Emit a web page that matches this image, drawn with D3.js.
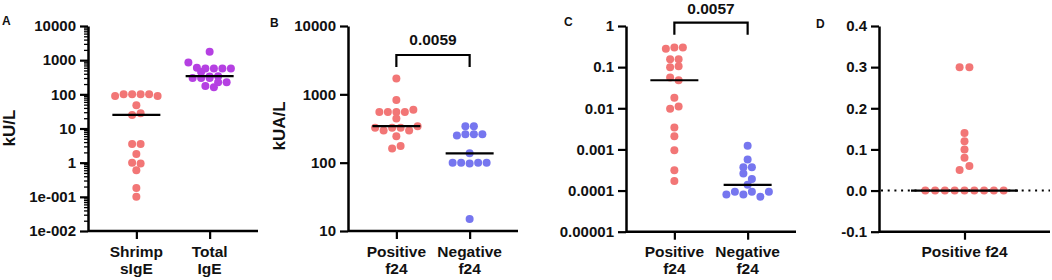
<!DOCTYPE html>
<html><head><meta charset="utf-8">
<script src="https://cdn.jsdelivr.net/npm/d3@7"></script>
<style>
html,body{margin:0;padding:0;background:#fff;}
svg{display:block;}
svg text{font-family:"Liberation Sans",Arial,Helvetica,sans-serif;font-weight:700;}
</style></head><body>
<svg id="chart" width="1052" height="280"></svg>
<script>
// ---------- DATA ----------
const categoriesA = ["Shrimp sIgE", "Total IgE"];
const categoryLinesA = [["Shrimp", "sIgE"], ["Total", "IgE"]];
const shrimpSIgE = [90, 100, 100, 100, 100, 90, 48, 25, 28, 3.5, 3.5, 1.8, 1.0, 0.95, 0.6, 0.18, 0.1];
const totalIgE = [1750, 850, 600, 450, 570, 570, 570, 570, 330, 300, 300, 300, 340, 225, 225, 175, 160];

const categoriesBC = ["Positive f24", "Negative f24"];
const categoryLinesBC = [["Positive", "f24"], ["Negative", "f24"]];
const totalIgEPositive = [1700, 825, 550, 550, 550, 550, 595, 444, 324, 296, 324, 324, 296, 342, 244, 161, 176];
const totalIgENegative = [342, 342, 250, 260, 260, 260, 137, 100, 100, 97, 100, 100, 15];

const ratioPositive = [0.28, 0.3, 0.3, 0.155, 0.155, 0.1, 0.105, 0.056, 0.048, 0.018, 0.0098, 0.011, 0.0034, 0.0021, 0.00095, 0.00031, 0.00017];
const ratioNegative = [0.00123, 0.00057, 0.00037, 0.00037, 0.00026, 0.00019, 0.000138, 0.00008, 0.000093, 0.00008, 0.000093, 0.000071, 0.000093];

const categoriesD = ["Positive f24"];
const valuesD = [0.3, 0.3, 0.14, 0.12, 0.10, 0.08, 0.05, 0.06, 0, 0, 0, 0, 0, 0, 0, 0, 0];

const tickValuesA = [10000, 1000, 100, 10, 1, 0.1, 0.01];
const tickLabelsA = ["10000", "1000", "100", "10", "1", "1e-001", "1e-002"];
const tickValuesB = [10000, 1000, 100, 10];
const tickLabelsB = ["10000", "1000", "100", "10"];
const tickValuesC = [1, 0.1, 0.01, 0.001, 0.0001, 0.00001];
const tickLabelsC = ["1", "0.1", "0.01", "0.001", "0.0001", "0.00001"];
const tickValuesD = [0.4, 0.3, 0.2, 0.1, 0.0, -0.1];
const tickLabelsD = ["0.4", "0.3", "0.2", "0.1", "0.0", "-0.1"];

const pValueB = "0.0059";
const pValueC = "0.0057";

// ---------- STYLE ----------
const RED = "#f27676", PURPLE = "#b540e2", BLUE = "#7676ef";
const svg = d3.select("#chart");

function rowOffsets(values, yScale, bin, spacing) {
  const idx = values.map((v, i) => i).sort((a, b) => d3.descending(values[a], values[b]) || a - b);
  const off = new Array(values.length).fill(0);
  let group = [], startY = null;
  const flush = () => {
    group.sort((a, b) => a - b);
    const n = group.length;
    group.forEach((gi, k) => off[gi] = (k - (n - 1) / 2) * spacing);
    group = [];
  };
  idx.forEach(i => {
    const y = yScale(values[i]);
    if (startY === null || y - startY >= bin) { if (group.length) flush(); startY = y; }
    group.push(i);
  });
  flush();
  return off;
}

function drawPanel(cfg) {
  const g = svg.append("g");
  const y = cfg.log ? d3.scaleLog().domain(cfg.domain).range([cfg.bottom, cfg.top])
                    : d3.scaleLinear().domain(cfg.domain).range([cfg.bottom, cfg.top]);
  const x = d3.scalePoint().domain(cfg.categories).range([cfg.left, cfg.right]).padding(cfg.padding);

  if (cfg.minor) {
    const minors = [];
    const lo = Math.log10(cfg.domain[0]), hi = Math.log10(cfg.domain[1]);
    for (let e = lo; e < hi; e++) for (let m = 2; m <= 9; m++) minors.push(m * Math.pow(10, e));
    const ma = g.append("g").attr("transform", `translate(${cfg.left},0)`)
      .call(d3.axisLeft(y).tickValues(minors).tickSize(4).tickFormat(""));
    ma.select(".domain").remove();
    ma.selectAll("line").attr("stroke", "#000").attr("stroke-width", 1.3);
  }

  const ya = g.append("g").attr("transform", `translate(${cfg.left},0)`)
    .call(d3.axisLeft(y).tickValues(cfg.tickValues).tickSize(8).tickSizeOuter(0).tickPadding(4)
      .tickFormat((d, i) => cfg.tickLabels[i]));
  ya.attr("font-family", null).attr("font-size", null);
  ya.select(".domain").attr("stroke", "#000").attr("stroke-width", 2.5);
  ya.selectAll(".tick line").attr("stroke", "#000").attr("stroke-width", 2.2);
  ya.selectAll(".tick text").attr("font-size", 15).attr("fill", "#111");

  const xa = g.append("g").attr("transform", `translate(0,${cfg.bottom})`)
    .call(d3.axisBottom(x).tickSize(8).tickSizeOuter(0).tickFormat(""));
  xa.attr("font-family", null);
  xa.select(".domain").attr("d", `M${cfg.left},0H${cfg.right}`).attr("stroke", "#000").attr("stroke-width", 2.5);
  xa.selectAll(".tick line").attr("stroke", "#000").attr("stroke-width", 2.2);

  cfg.categories.forEach((c, i) => {
    const t = g.append("text").attr("x", x(c)).attr("y", 257).attr("text-anchor", "middle")
      .attr("font-size", 15.5).attr("fill", "#111");
    cfg.catLines[i].forEach((ln, k) => {
      t.append("tspan").attr("x", x(c)).attr("dy", k === 0 ? 0 : 16.5).text(ln);
    });
  });

  if (cfg.zeroLine) {
    g.append("line").attr("x1", cfg.left + 2).attr("x2", cfg.right).attr("y1", y(0)).attr("y2", y(0))
      .attr("stroke", "#000").attr("stroke-width", 2).attr("stroke-dasharray", "2,4.7");
  }

  cfg.series.forEach((s, si) => {
    const cx = x(cfg.categories[si]);
    const off = rowOffsets(s.values, y, 6, cfg.spacing);
    g.append("g").selectAll("circle").data(s.values).join("circle")
      .attr("cx", (d, i) => cx + off[i]).attr("cy", d => y(d)).attr("r", 4)
      .attr("fill", s.color);
    const med = d3.median(s.values);
    g.append("line").attr("x1", cx - cfg.medHalf).attr("x2", cx + cfg.medHalf)
      .attr("y1", y(med)).attr("y2", y(med)).attr("stroke", "#000").attr("stroke-width", 2.2);
  });

  if (cfg.pValue) {
    const x1 = x(cfg.categories[0]), x2 = x(cfg.categories[1]);
    g.append("path").attr("d", `M${x1},${cfg.bracketY + 12}V${cfg.bracketY}H${x2}V${cfg.bracketY + 12}`)
      .attr("fill", "none").attr("stroke", "#000").attr("stroke-width", 2.2);
    g.append("text").attr("x", (x1 + x2) / 2).attr("y", cfg.pY).attr("text-anchor", "middle")
      .attr("font-size", 15.5).attr("fill", "#111").text(cfg.pValue);
  }

  g.append("text").attr("x", cfg.letterX).attr("y", cfg.letterY).attr("font-size", 12).attr("fill", "#111").text(cfg.letter);

  if (cfg.yTitle) {
    g.append("text").attr("transform", `translate(${cfg.titleX},${cfg.titleY}) rotate(-90)`)
      .attr("text-anchor", "middle").attr("font-size", 17).attr("fill", "#111").text(cfg.yTitle);
  }
}

drawPanel({
  log: true, domain: [0.01, 10000], left: 88, right: 258, top: 26, bottom: 231, padding: 0.66,
  categories: categoriesA, catLines: categoryLinesA, tickValues: tickValuesA, tickLabels: tickLabelsA,
  minor: true, spacing: 8.5, medHalf: 24,
  series: [{ values: shrimpSIgE, color: RED }, { values: totalIgE, color: PURPLE }],
  letter: "A", letterX: 2, letterY: 25, yTitle: "kU/L", titleX: 15, titleY: 128
});
drawPanel({
  log: true, domain: [10, 10000], left: 348, right: 518, top: 26, bottom: 231, padding: 0.66,
  categories: categoriesBC, catLines: categoryLinesBC, tickValues: tickValuesB, tickLabels: tickLabelsB,
  spacing: 8.5, medHalf: 24,
  series: [{ values: totalIgEPositive, color: RED }, { values: totalIgENegative, color: BLUE }],
  pValue: pValueB, bracketY: 55, pY: 45,
  letter: "B", letterX: 270, letterY: 27, yTitle: "kUA/L", titleX: 285, titleY: 126
});
drawPanel({
  log: true, domain: [0.00001, 1], left: 626, right: 796, top: 26, bottom: 231.7, padding: 0.66,
  categories: categoriesBC, catLines: categoryLinesBC, tickValues: tickValuesC, tickLabels: tickLabelsC,
  spacing: 8.5, medHalf: 24,
  series: [{ values: ratioPositive, color: RED }, { values: ratioNegative, color: BLUE }],
  pValue: pValueC, bracketY: 22.7, pY: 13.5,
  letter: "C", letterX: 564, letterY: 26
});
drawPanel({
  log: false, domain: [-0.1, 0.4], left: 879, right: 1050, top: 26, bottom: 231.7, padding: 0.5,
  categories: categoriesD, catLines: [["Positive f24"]], tickValues: tickValuesD, tickLabels: tickLabelsD,
  spacing: 9.8, medHalf: 53.5, zeroLine: true,
  series: [{ values: valuesD, color: RED }],
  letter: "D", letterX: 816, letterY: 28
});
</script>
</body></html>
